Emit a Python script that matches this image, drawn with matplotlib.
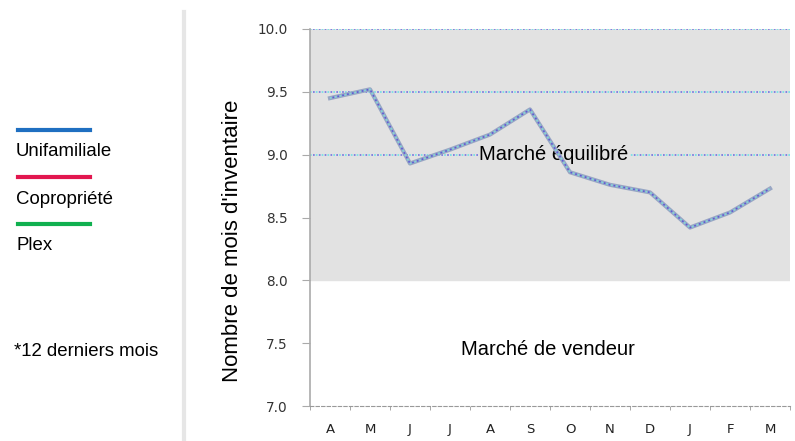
import matplotlib.pyplot as plt
import numpy as np
from matplotlib.lines import Line2D

# Months of the last 12 months and inventory (months)
months = ['A', 'M', 'J', 'J', 'A', 'S', 'O', 'N', 'D', 'J', 'F', 'M']
inventory = [9.45, 9.52, 8.93, 9.04, 9.16, 9.36, 8.86, 8.76, 8.70, 8.42, 8.54, 8.73]
y_ticks = [7.0, 7.5, 8.0, 8.5, 9.0, 9.5, 10.0]
grid_levels = [9.0, 9.5, 10.0]
legend_names = ['Unifamiliale', 'Copropriété', 'Plex']
legend_colors = ['#1f6fc1', '#e2174f', '#10b04f']

fig = plt.figure(figsize=(7.95, 4.41), dpi=100)
ax = fig.add_axes([310 / 795, 35 / 441, 480 / 795, 377 / 441])

x = np.arange(len(months))

# balanced market zone
ax.axhspan(8.0, 10.0, color='#e2e2e2', zorder=0)
for lvl in grid_levels:
    ax.axhline(lvl, color='#6fe0e6', lw=1.2, ls=(0, (1, 2.5)), zorder=1)
    ax.axhline(lvl, color='#7070e0', lw=1.2, ls=(1.7, (1, 2.5)), zorder=1)

# grainy series line
ax.plot(x, inventory, color='#98a6c4', lw=3, zorder=3, solid_joinstyle='round')
ax.plot(x, inventory, color='#7fd8dc', lw=1.2, ls=(0, (1, 2)), zorder=4)
ax.plot(x, inventory, color='#5b5bd8', lw=1.2, ls=(1.5, (1, 2)), zorder=4)

ax.text(5.6, 9.0, 'Marché équilibré', ha='center', va='center',
        fontsize=14.5, family='Liberation Sans', zorder=2,
        bbox=dict(facecolor='#e2e2e2', edgecolor='none', pad=1))
ax.text(5.45, 7.45, 'Marché de vendeur', ha='center', va='center',
        fontsize=14.5, family='Liberation Sans')

ax.set_xlim(-0.5, 11.5)
ax.set_ylim(7.0, 10.0)
ax.set_xticks(x)
ax.set_xticklabels(months)
ax.set_xticks(np.arange(-0.5, 12, 1), minor=True)
ax.tick_params(axis='x', which='major', length=0, pad=12, labelsize=9.5,
               labelcolor='#222222')
ax.tick_params(axis='x', which='minor', length=3, color='#999999', direction='out')
ax.set_yticks(y_ticks)
ax.set_yticklabels([f'{v:.1f}' for v in y_ticks])
ax.tick_params(axis='y', length=6, color='#aaaaaa', labelsize=9.8, pad=10,
               labelcolor='#333333')

for side in ['top', 'right']:
    ax.spines[side].set_visible(False)
ax.spines['left'].set_color('#aaaaaa')
ax.spines['left'].set_linewidth(1.2)
ax.spines['bottom'].set_color('#999999')
ax.spines['bottom'].set_linestyle((0, (3, 2)))

ax.set_ylabel("Nombre de mois d'inventaire", fontsize=16,
              family='Liberation Sans')
ax.yaxis.set_label_coords(-0.14, 0.438)

# separator on the left
fig.add_artist(Line2D([184 / 795, 184 / 795], [0, 1 - 12 / 441],
                      color='#e6e6e6', lw=3, transform=fig.transFigure))

# legend
for i, (name, col) in enumerate(zip(legend_names, legend_colors)):
    y_line = 1 - (130 + 47 * i) / 441
    fig.add_artist(Line2D([18 / 795, 90 / 795], [y_line, y_line], color=col,
                          lw=3, transform=fig.transFigure))
    fig.text(16 / 795, y_line - 22 / 441, name, fontsize=13.4,
             family='Liberation Sans', va='center', ha='left')

fig.text(14 / 795, 1 - 351 / 441, '*12 derniers mois', fontsize=13.4,
         family='Liberation Sans', va='center', ha='left')

fig.savefig('out.png', dpi=100)
